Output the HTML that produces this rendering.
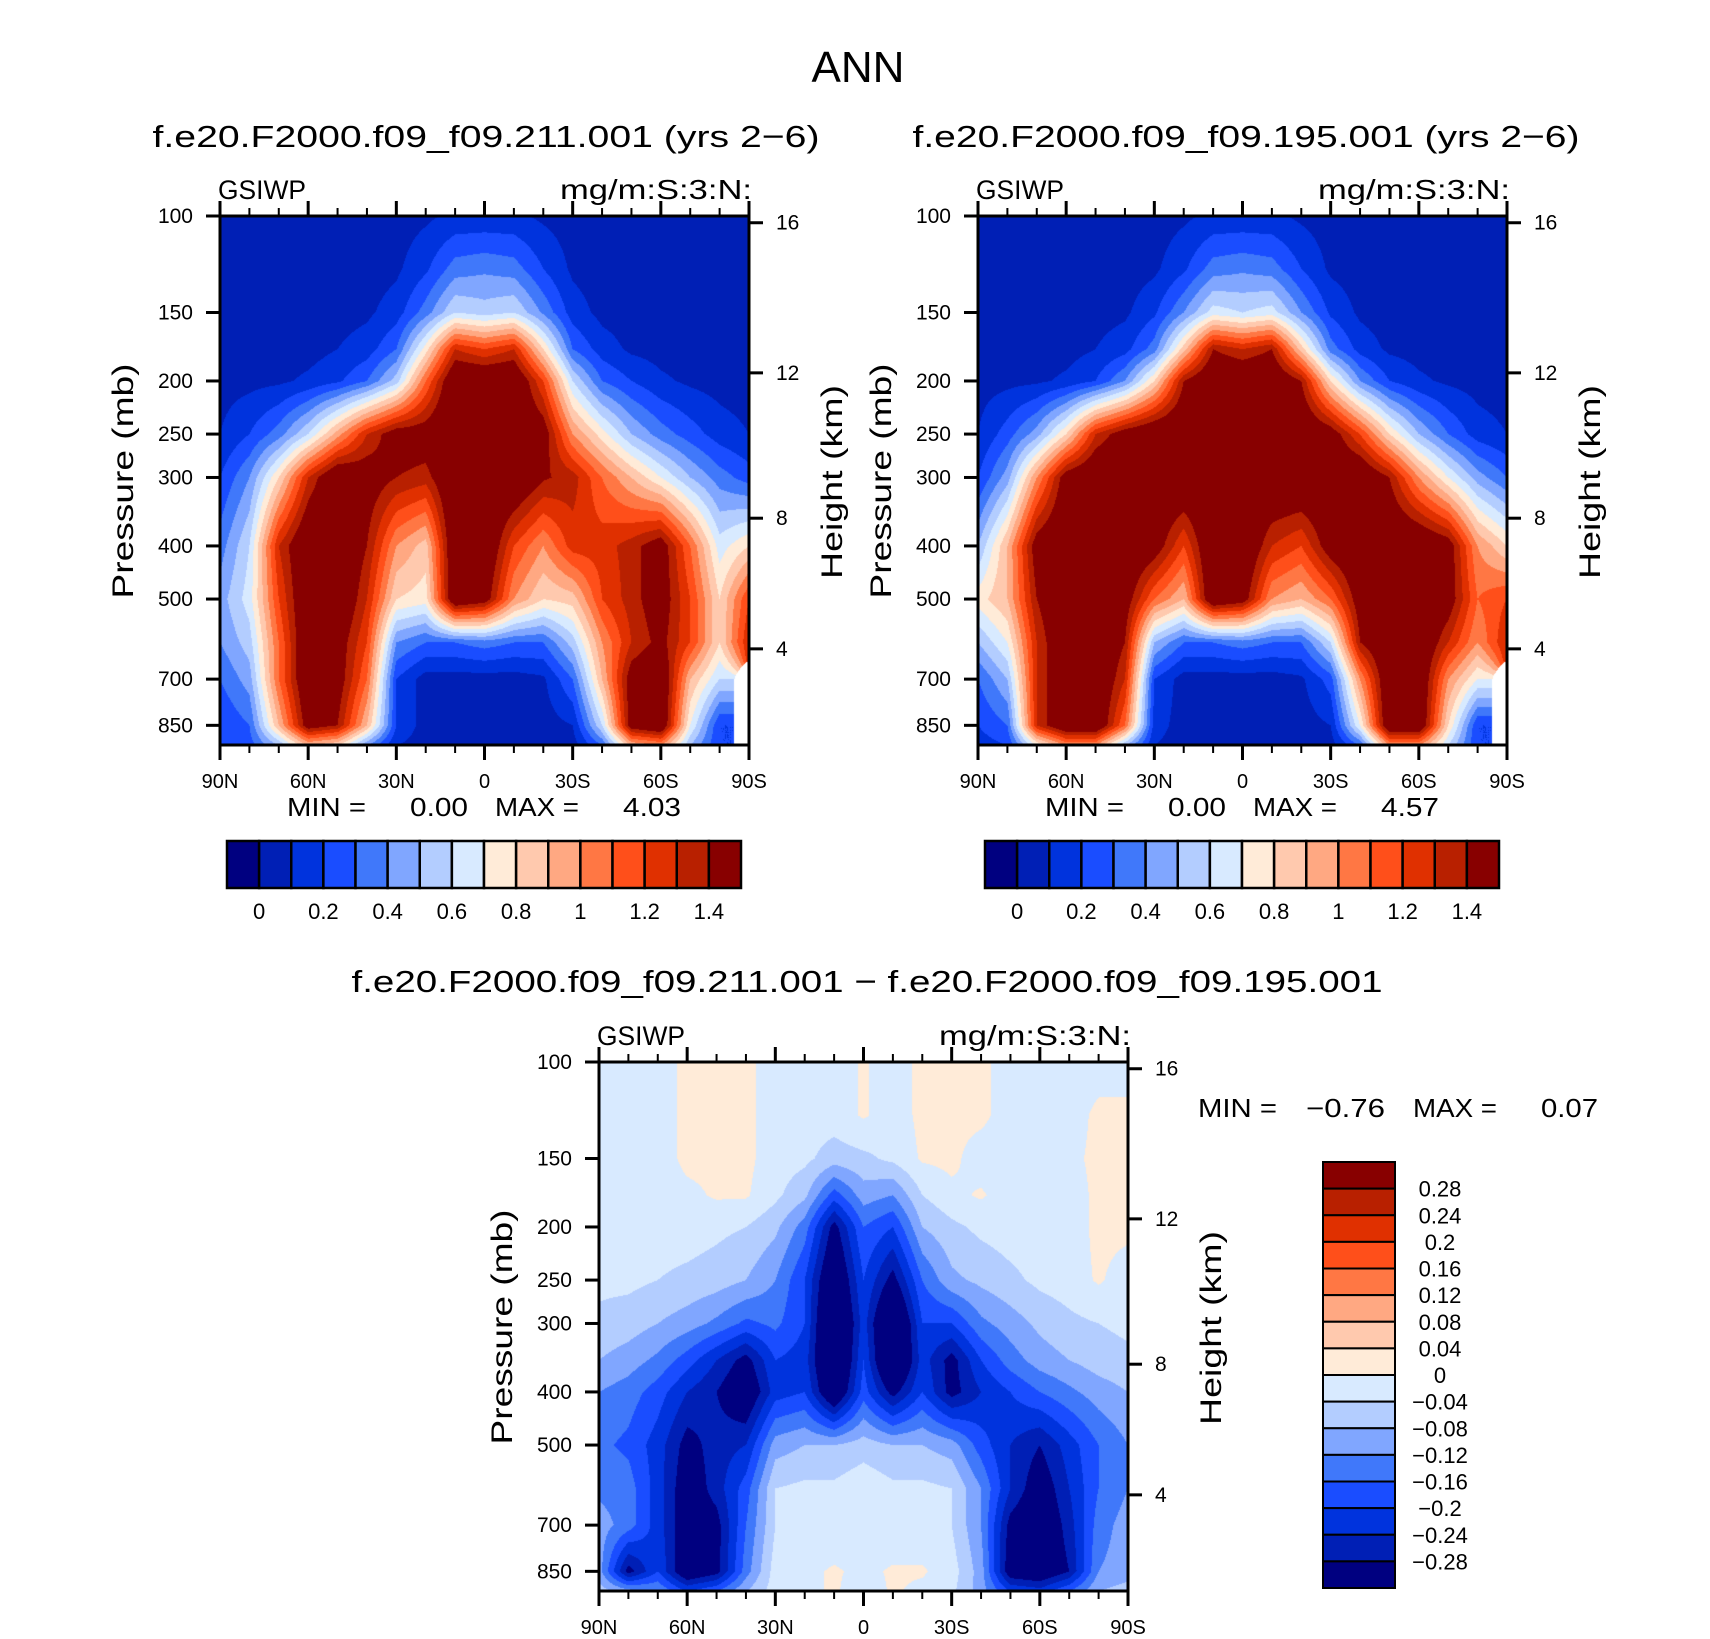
<!DOCTYPE html>
<html><head><meta charset="utf-8"><style>
html,body{margin:0;padding:0;background:#fff;}
#wrap{position:relative;width:1710px;height:1639px;overflow:hidden;background:#fff;font-family:"Liberation Sans",sans-serif;}
canvas{position:absolute;}
svg{position:absolute;left:0;top:0;}
</style></head><body>
<div id="wrap">
<canvas id="cA" width="529" height="529" style="left:220px;top:216px"></canvas>
<canvas id="cB" width="529" height="529" style="left:978px;top:216px"></canvas>
<canvas id="cC" width="529" height="529" style="left:599px;top:1062px"></canvas>
<svg id="svg" width="1710" height="1639"></svg>
</div>
<script>
const lats=[90,80,70,60,50,40,30,20,10,0,-10,-20,-30,-40,-50,-60,-70,-80,-90];
const presTop=[100,125,150,175,200,250,300,400,500,600,700,850,925];
const presDiff=[100,125,150,175,200,250,300,350,400,500,600,700,850,925];
const levTop=[0,0.1,0.2,0.3,0.4,0.5,0.6,0.7,0.8,0.9,1,1.1,1.2,1.3,1.4];
const levDiff=[-0.28,-0.24,-0.2,-0.16,-0.12,-0.08,-0.04,0,0.04,0.08,0.12,0.16,0.2,0.24,0.28];
const cbTopLabels=["0","0.2","0.4","0.6","0.8","1","1.2","1.4"];
const cbDiffLabels=["0.28","0.24","0.2","0.16","0.12","0.08","0.04","0","\u22120.04","\u22120.08","\u22120.12","\u22120.16","\u22120.2","\u22120.24","\u22120.28"];
const presTicks=[100,150,200,250,300,400,500,700,850];
const kmTicks=[16,12,8,4];
const latMajor=[90,60,30,0,-30,-60,-90];
const latMajorLabels=["90N","60N","30N","0","30S","60S","90S"];
const latMinor=[80,70,50,40,20,10,-10,-20,-40,-50,-70,-80];
const palette=["#000080","#001fb5","#0033dd","#1a4dff","#4078fa","#80a6ff","#b3cdff","#d8eaff","#ffebd8","#ffc9ae","#ffa882","#ff7744","#ff4f1a","#e03000","#b82000","#880000"];

const field211=[
[.05,.05,.05,.05,.05,.05,.05,.08,.12,.12,.12,.08,.05,.05,.05,.05,.05,.05,.05],
[.05,.05,.05,.05,.05,.05,.08,.18,.35,.38,.35,.2,.08,.05,.05,.05,.05,.05,.05],
[.05,.05,.05,.05,.06,.08,.15,.35,.6,.55,.6,.38,.15,.07,.05,.05,.05,.05,.05],
[.05,.05,.05,.06,.1,.15,.3,.75,1.3,1.2,1.3,.8,.3,.15,.08,.06,.05,.05,.05],
[.06,.07,.08,.12,.18,.3,.55,1.1,1.6,1.6,1.6,1.2,.6,.3,.2,.12,.08,.06,.05],
[.1,.2,.35,.6,.95,1.3,1.5,1.5,1.6,1.6,1.6,1.5,1.0,.75,.5,.35,.25,.15,.1],
[.2,.4,.8,1.3,1.6,1.5,1.4,1.35,1.6,1.6,1.6,1.42,1.35,1.1,.9,.7,.5,.35,.25],
[.35,.6,1.3,1.6,1.6,1.4,1.0,.85,1.6,1.6,1.2,1.0,1.25,1.25,1.35,1.5,1.1,.65,.8],
[.45,.65,1.2,1.6,1.6,1.3,.8,.75,1.6,1.5,1.0,.8,.85,1.2,1.35,1.5,1.2,.8,1.2],
[.4,.55,1.1,1.6,1.5,1.2,.4,.3,.3,.35,.3,.3,.55,1.0,1.3,1.45,1.2,.8,1.3],
[.3,.45,1.1,1.6,1.5,1.1,.2,.05,.05,.05,.05,.08,.3,.9,1.5,1.6,.9,.6,null],
[.2,.3,.9,1.5,1.4,.9,.2,.05,.05,.05,.05,.05,.1,.6,1.5,1.6,.7,.2,null],
[.2,.25,.5,.9,.8,.4,.1,.05,.05,.05,.05,.05,.05,.3,.9,1.0,.5,.2,null]];

const field195=[
[.05,.05,.05,.05,.05,.05,.05,.08,.12,.12,.12,.08,.05,.05,.05,.05,.05,.05,.05],
[.05,.05,.05,.05,.05,.05,.08,.18,.35,.38,.35,.2,.08,.05,.05,.05,.05,.05,.05],
[.05,.05,.05,.05,.06,.08,.18,.4,.65,.6,.65,.4,.18,.08,.05,.05,.05,.05,.05],
[.05,.05,.05,.06,.1,.16,.35,.85,1.4,1.3,1.4,.85,.35,.16,.08,.06,.05,.05,.05],
[.06,.07,.08,.12,.2,.4,.8,1.4,1.6,1.6,1.6,1.4,.8,.4,.2,.12,.08,.06,.05],
[.1,.25,.45,.8,1.3,1.5,1.6,1.6,1.6,1.6,1.6,1.6,1.5,1.2,.8,.5,.3,.15,.1],
[.2,.45,1.0,1.5,1.6,1.6,1.6,1.6,1.6,1.6,1.6,1.6,1.6,1.6,1.4,1.0,.7,.45,.3],
[.5,.9,1.5,1.6,1.6,1.6,1.5,1.2,1.6,1.6,1.3,1.2,1.5,1.6,1.6,1.6,1.5,1.0,.8],
[.75,.9,1.4,1.6,1.6,1.5,1.1,.9,1.6,1.5,1.0,.9,1.1,1.5,1.6,1.6,1.5,1.1,1.2],
[.5,.7,1.3,1.6,1.6,1.4,.5,.3,.3,.35,.3,.3,.6,1.4,1.6,1.6,1.3,1.0,1.3],
[.3,.5,1.3,1.6,1.6,1.3,.2,.05,.05,.05,.05,.08,.25,1.0,1.6,1.6,1.0,.7,null],
[.2,.3,1.3,1.6,1.6,1.1,.15,.05,.05,.05,.05,.05,.1,.7,1.6,1.6,.8,.2,null],
[.15,.2,.7,1.0,1.0,.5,.1,.05,.05,.05,.05,.05,.05,.3,1.0,1.0,.6,.2,null]];

const fieldDiff=[
[-.02,-.02,-.02,.01,.01,.01,-.02,-.02,-.02,.005,-.02,.01,.01,.01,-.02,-.02,-.02,-.02,-.02],
[-.02,-.02,-.02,.01,.01,.01,-.02,-.02,-.02,.005,-.02,.01,.01,.01,-.02,-.02,-.02,.01,.01],
[-.02,-.02,-.02,.01,.01,.01,-.02,-.03,-.06,-.05,-.03,.005,.01,-.02,-.02,-.02,-.01,.01,.01],
[-.02,-.02,-.02,-.01,.005,.005,-.03,-.07,-.18,-.1,-.12,-.04,-.01,.005,-.02,-.02,-.02,.01,.01],
[-.02,-.02,-.02,-.02,-.03,-.04,-.07,-.14,-.3,-.16,-.2,-.08,-.05,-.03,-.02,-.02,-.02,.01,.01],
[-.03,-.03,-.04,-.05,-.06,-.08,-.12,-.2,-.36,-.2,-.3,-.16,-.09,-.07,-.05,-.03,-.02,.005,-.02],
[-.05,-.06,-.08,-.1,-.13,-.17,-.15,-.2,-.4,-.22,-.4,-.2,-.2,-.13,-.1,-.07,-.05,-.04,-.03],
[-.08,-.1,-.13,-.18,-.24,-.3,-.2,-.22,-.4,-.2,-.4,-.22,-.3,-.2,-.14,-.1,-.08,-.06,-.05],
[-.12,-.14,-.18,-.24,-.28,-.34,-.22,-.2,-.36,-.18,-.3,-.2,-.3,-.24,-.2,-.16,-.13,-.1,-.08],
[-.15,-.17,-.22,-.3,-.26,-.24,-.1,-.08,-.08,-.06,-.08,-.08,-.1,-.18,-.24,-.28,-.22,-.16,-.12],
[-.13,-.14,-.22,-.32,-.26,-.18,-.04,-.03,-.03,-.01,-.03,-.03,-.04,-.12,-.24,-.32,-.24,-.16,-.12],
[-.1,-.14,-.22,-.32,-.3,-.16,-.04,-.02,-.03,-.02,-.03,-.03,-.04,-.12,-.3,-.34,-.26,-.14,-.1],
[-.1,-.3,-.2,-.34,-.3,-.14,-.02,-.01,.005,-.01,.005,.005,-.02,-.1,-.32,-.34,-.28,-.12,-.1],
[-.06,-.1,-.12,-.2,-.16,-.08,-.02,-.01,.005,-.02,.005,-.01,-.03,-.1,-.2,-.22,-.16,-.08,-.06]];

const W=529,H=529,K=238;
function xScale(lat,x0){return x0+(90-lat)/180*W;}
function yScale(p,y0){return y0+K*Math.log(p/100);}
function kmToP(km){const z=km*1000;return z<=11000?1013.25*Math.pow(1-2.25577e-5*z,5.25588):226.32*Math.exp(-(z-11000)/6341.6);}

function renderField(id,pres,field,levels){
  const cv=document.getElementById(id),ctx=cv.getContext('2d');
  const img=ctx.createImageData(W,H);
  const rgb=palette.map(c=>[parseInt(c.substr(1,2),16),parseInt(c.substr(3,2),16),parseInt(c.substr(5,2),16)]);
  const lnP=pres.map(p=>Math.log(p));
  for(let j=0;j<H;j++){
    const lp=Math.log(100)+(j+0.5)/K;
    let r=0;while(r<pres.length-2&&lnP[r+1]<lp)r++;
    let fy=(lp-lnP[r])/(lnP[r+1]-lnP[r]);fy=Math.max(0,Math.min(1,fy));
    for(let i=0;i<W;i++){
      const fx=(i+0.5)/W*(lats.length-1);
      let c=Math.min(Math.floor(fx),lats.length-2);const tx=fx-c;
      const pts=[[field[r][c],(1-tx)*(1-fy)],[field[r][c+1],tx*(1-fy)],[field[r+1][c],(1-tx)*fy],[field[r+1][c+1],tx*fy]];
      let s=0,ws=0,wn=0;
      for(const [v,w] of pts){if(v===null)wn+=w;else{s+=v*w;ws+=w;}}
      const k=(j*W+i)*4;
      if(wn>0.5||ws===0){img.data[k]=255;img.data[k+1]=255;img.data[k+2]=255;img.data[k+3]=255;continue;}
      const v=s/ws;let idx=0;for(const L of levels){if(v>=L)idx++;}
      const col=rgb[idx];
      img.data[k]=col[0];img.data[k+1]=col[1];img.data[k+2]=col[2];img.data[k+3]=255;
    }
  }
  ctx.putImageData(img,0,0);
}
renderField('cA',presTop,field211,levTop);
renderField('cB',presTop,field195,levTop);
renderField('cC',presDiff,fieldDiff,levDiff);

const svg=document.getElementById('svg');
const NS='http://www.w3.org/2000/svg';
function el(tag,attrs,parent){const e=document.createElementNS(NS,tag);for(const k in attrs)e.setAttribute(k,attrs[k]);(parent||svg).appendChild(e);return e;}
function txt(s,x,y,size,anchor,parent,len){const t=el('text',{x:x,y:y,'font-size':size,'text-anchor':anchor||'start','font-family':'"Liberation Sans",sans-serif',fill:'#000'},parent);if(len){t.setAttribute('textLength',len);t.setAttribute('lengthAdjust','spacingAndGlyphs');}t.textContent=s;return t;}

let t;
t=txt('ANN',858,82,44,'middle',svg,93);



function panel(x0,y0,title,tcx,tcy,tlen,name){
  const g=el('g',{});
  
  
  let tt=txt(title,tcx,tcy,31,'middle',g,tlen);
  
  
  tt=txt('GSIWP',x0-2,y0-17,27,'start',g,88);
  
  
  tt=txt('mg/m:S:3:N:',x0+532,y0-17,28,'end',g,192);
  
  
  presTicks.forEach(p=>{const y=yScale(p,y0);
    el('line',{x1:x0-14,x2:x0,y1:y,y2:y,stroke:'#000','stroke-width':3},g);
    const l=txt(String(p),x0-27,y+7,21,'end',g);
    
    });
  kmTicks.forEach(km=>{const y=yScale(kmToP(km),y0);
    el('line',{x1:x0+W,x2:x0+W+14,y1:y,y2:y,stroke:'#000','stroke-width':3},g);
    const l=txt(String(km),x0+W+27,y+7,21,'start',g);
    
    });
  latMajor.forEach((lat,i)=>{const x=xScale(lat,x0);
    el('line',{x1:x,x2:x,y1:y0+H,y2:y0+H+15,stroke:'#000','stroke-width':3},g);
    el('line',{x1:x,x2:x,y1:y0,y2:y0-15,stroke:'#000','stroke-width':3},g);
    const l=txt(latMajorLabels[i],x,y0+H+43,20,'middle',g);
    
    });
  latMinor.forEach(lat=>{const x=xScale(lat,x0);
    el('line',{x1:x,x2:x,y1:y0+H,y2:y0+H+8,stroke:'#000','stroke-width':2},g);
    el('line',{x1:x,x2:x,y1:y0,y2:y0-8,stroke:'#000','stroke-width':2},g);});
  const fr=el('rect',{x:x0,y:y0,width:W,height:H,fill:'none',stroke:'#000','stroke-width':3},g);
  
  
  let a=txt('Pressure (mb)',0,0,30,'middle',g,235);
  a.setAttribute('transform','translate('+(x0-87)+','+(y0+265)+') rotate(-90)');
  
  
  a=txt('Height (km)',0,0,30,'middle',g,194);
  a.setAttribute('transform','translate('+(x0+W+93)+','+(y0+266)+') rotate(-90)');
  
  
  return g;
}
panel(220,216,'f.e20.F2000.f09_f09.211.001 (yrs 2\u22126)',486,147,667,'panel-case-211');
panel(978,216,'f.e20.F2000.f09_f09.195.001 (yrs 2\u22126)',1246,147,667,'panel-case-195');
panel(599,1062,'f.e20.F2000.f09_f09.211.001 \u2212 f.e20.F2000.f09_f09.195.001',867,992,1031,'panel-difference');

function minmax(items){items.forEach(([s,x,y,len])=>{const m=txt(s,x,y,26,'start',svg,len);
  
  });}
minmax([['MIN =',287,816,79],['0.00',410,816,58],['MAX =',495,816,84],['4.03',623,816,58]]);
minmax([['MIN =',1045,816,79],['0.00',1168,816,58],['MAX =',1253,816,84],['4.57',1381,816,58]]);
minmax([['MIN =',1198,1117,79],['\u22120.76',1306,1117,79],['MAX =',1413,1117,84],['0.07',1541,1117,57]]);

function hColorbar(x0,name){
  const g=el('g',{});
  
  
  const bw=514/16;
  palette.forEach((c,i)=>{const r=el('rect',{x:x0+i*bw,y:841,width:bw,height:47,fill:c,stroke:'#000','stroke-width':2.5},g);
    
    });
  cbTopLabels.forEach((s,i)=>{const l=txt(s,x0+(1+2*i)*bw,919,22,'middle',g);
    
    });
}
hColorbar(227,'colorbar-case-211');
hColorbar(985,'colorbar-case-195');
(function(){
  const g=el('g',{});
  
  
  const bh=426/16;
  palette.slice().reverse().forEach((c,i)=>{const r=el('rect',{x:1323,y:1162+i*bh,width:72,height:bh,fill:c,stroke:'#000','stroke-width':2},g);
    
    });
  cbDiffLabels.forEach((s,i)=>{const l=txt(s,1440,1162+(i+1)*bh+8,22,'middle',g);
    
    });
})();
</script>
</body></html>
